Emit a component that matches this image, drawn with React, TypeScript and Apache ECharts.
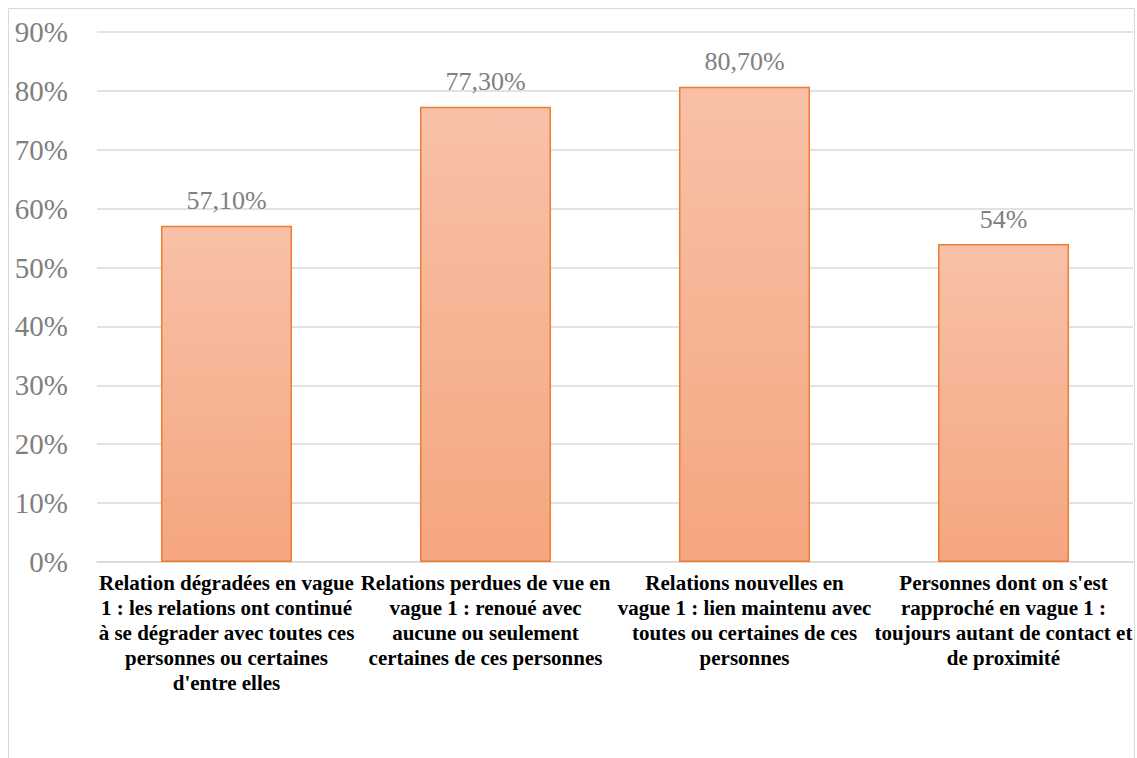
import React, { useEffect, useRef } from "react";
import * as echarts from "echarts";

const categories = [
  "Relation dégradées en vague\n1 : les relations ont continué\nà se dégrader avec toutes ces\npersonnes ou certaines\nd'entre elles",
  "Relations perdues de vue en\nvague 1 : renoué avec\naucune ou seulement\ncertaines de ces personnes",
  "Relations nouvelles en\nvague 1 : lien maintenu avec\ntoutes ou certaines de ces\npersonnes",
  "Personnes dont on s'est\nrapproché en vague 1 :\ntoujours autant de contact et\nde proximité",
];
const values = [57.1, 77.3, 80.7, 54];
const dataLabels = ["57,10%", "77,30%", "80,70%", "54%"];
const yTicks = { min: 0, max: 90, interval: 10 };

export default function App() {
  const ref = useRef<HTMLDivElement>(null);
  useEffect(() => {
    if (!ref.current) return;
    const chart = echarts.init(ref.current, null, { renderer: "svg" });
    chart.setOption({
      animation: false,
      backgroundColor: "#ffffff",
      grid: { left: 97, right: 4, top: 32, bottom: 196, containLabel: false },
      graphic: [
        {
          type: "rect",
          shape: { x: 8.5, y: 8.5, width: 1126, height: 800 },
          style: { fill: "none", stroke: "#d9d9d9", lineWidth: 1 },
          silent: true,
        },
      ],
      xAxis: {
        type: "category",
        data: categories,
        axisTick: { show: false },
        axisLine: { show: true, lineStyle: { color: "#d9d9d9", width: 1.5 } },
        axisLabel: {
          interval: 0,
          margin: 8,
          fontFamily: "Liberation Serif",
          fontSize: 21,
          fontWeight: "bold",
          lineHeight: 25,
          color: "#000000",
          align: "center",
        },
      },
      yAxis: {
        type: "value",
        min: yTicks.min,
        max: yTicks.max,
        interval: yTicks.interval,
        axisLine: { show: false },
        axisTick: { show: false },
        splitLine: { lineStyle: { color: "#d9d9d9", width: 1.5 } },
        axisLabel: {
          formatter: (v: number) => `${v}%`,
          margin: 29,
          fontFamily: "Liberation Serif",
          fontSize: 29,
          color: "#808080",
        },
      },
      series: [
        {
          type: "bar",
          data: values,
          barWidth: "50.6%",
          itemStyle: {
            color: new echarts.graphic.LinearGradient(0, 0, 0, 1, [
              { offset: 0, color: "#F8C1A7" },
              { offset: 1, color: "#F5A680" },
            ]),
            borderColor: "#ED7D31",
            borderWidth: 1.5,
          },
          label: {
            show: true,
            position: "top",
            distance: 12,
            formatter: (p: any) => dataLabels[p.dataIndex],
            fontFamily: "Liberation Serif",
            fontSize: 26,
            color: "#808080",
          },
        },
      ],
    });
    return () => chart.dispose();
  }, []);
  return (
    <div
      ref={ref}
      style={{ position: "absolute", left: 0, top: 0, width: 1137, height: 758 }}
    />
  );
}
